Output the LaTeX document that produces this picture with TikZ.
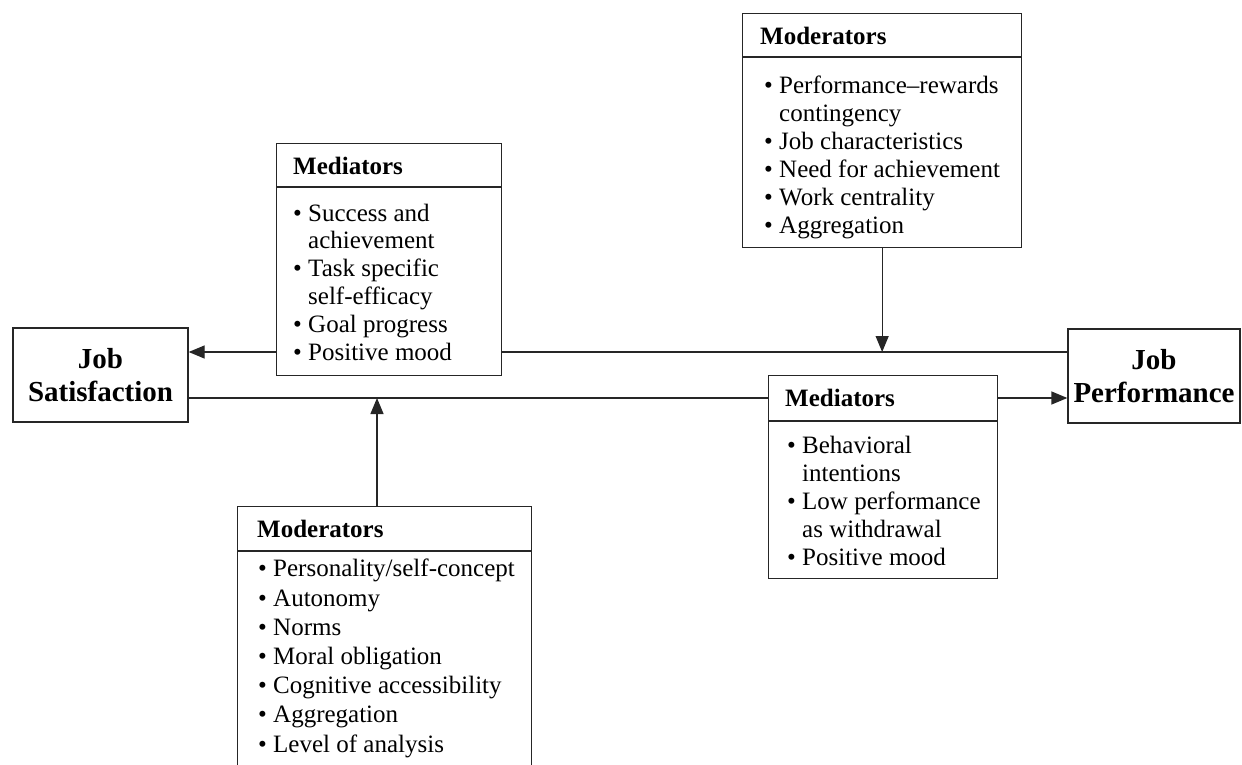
\documentclass[tikz,border=0pt]{standalone}
\usepackage{fontspec}
\setmainfont{Liberation Serif}
\usetikzlibrary{arrows.meta}
\newcommand{\itm}{\textbullet\ }
\newcommand{\cnt}{\hphantom{\textbullet\ }}
\begin{document}
\begin{tikzpicture}[x=1pt,y=-1pt,
  box/.style={draw=black!85, line width=1.3pt, rectangle, inner sep=0pt, anchor=north west},
  hdr/.style={font=\fontsize{25}{28}\selectfont\bfseries, anchor=base west, inner sep=0pt},
  items/.style={font=\fontsize{25}{27.8}\selectfont, anchor=base west, inner sep=0pt, align=left},
  conn/.style={draw=black!85, line width=1.3pt},
  arr/.style={conn, -{Triangle[length=16pt,width=13pt]}},
  mainbox/.style={draw=black!85, line width=1.3pt, font=\fontsize{29}{33}\selectfont\bfseries, align=center, inner sep=0pt, minimum height=94pt}
]
\useasboundingbox (0,0) rectangle (1242,765);
\clip (0,0) rectangle (1242,765);

% main boxes
\node[mainbox, minimum width=175pt] (JS) at (100.5,375) {Job\\Satisfaction};
\node[mainbox, minimum width=172pt] (JP) at (1154,376) {Job\\Performance};

% Mediators (upper left); item node anchored at the baseline of its last line
\node[box, minimum width=225pt, minimum height=232pt] (MA) at (276,143) {};
\coordinate (hA) at (0,187);
\draw[conn] (MA.west |- hA) -- (MA.east |- hA);
\node[hdr] (MAh) at (293,174) {Mediators};
\node[items] (MAt) at (293,360) {\itm Success and\\\cnt achievement\\\itm Task specific\\\cnt self-efficacy\\\itm Goal progress\\\itm Positive mood};

% Moderators (top right)
\node[box, minimum width=279pt, minimum height=234pt] (MB) at (742,13) {};
\coordinate (hB) at (0,57);
\draw[conn] (MB.west |- hB) -- (MB.east |- hB);
\node[hdr] (MBh) at (760,45) {Moderators};
\node[items, font=\fontsize{25}{28}\selectfont] (MBt) at (764,233) {\itm Performance--rewards\\\cnt contingency\\\itm Job characteristics\\\itm Need for achievement\\\itm Work centrality\\\itm Aggregation};

% Mediators (lower right)
\node[box, minimum width=229pt, minimum height=203pt] (MC) at (768,375) {};
\coordinate (hC) at (0,421);
\draw[conn] (MC.west |- hC) -- (MC.east |- hC);
\node[hdr] (MCh) at (785,406) {Mediators};
\node[items] (MCt) at (787,565) {\itm Behavioral\\\cnt intentions\\\itm Low performance\\\cnt as withdrawal\\\itm Positive mood};

% Moderators (bottom)
\node[box, minimum width=294pt, minimum height=300pt] (MD) at (237,506) {};
\coordinate (hD) at (0,551);
\draw[conn] (MD.west |- hD) -- (MD.east |- hD);
\node[hdr] (MDh) at (257,537) {Moderators};
\node[items, font=\fontsize{25}{29.2}\selectfont] (MDt) at (258,752) {\itm Personality/self-concept\\\itm Autonomy\\\itm Norms\\\itm Moral obligation\\\itm Cognitive accessibility\\\itm Aggregation\\\itm Level of analysis};

% connectors
\coordinate (yU) at (0,352);
\coordinate (yL) at (0,398);
\coordinate (xD) at (377,0);
\draw[conn] (JP.west |- yU) -- (MA.east |- yU);
\draw[arr] (MA.west |- yU) -- (JS.east |- yU);
\draw[arr] (MB.south) -- (MB.south |- yU);
\draw[conn] (JS.east |- yL) -- (MC.west |- yL);
\draw[arr] (MC.east |- yL) -- (JP.west |- yL);
\draw[arr] (MD.north -| xD) -- (xD |- yL);
\end{tikzpicture}
\end{document}
